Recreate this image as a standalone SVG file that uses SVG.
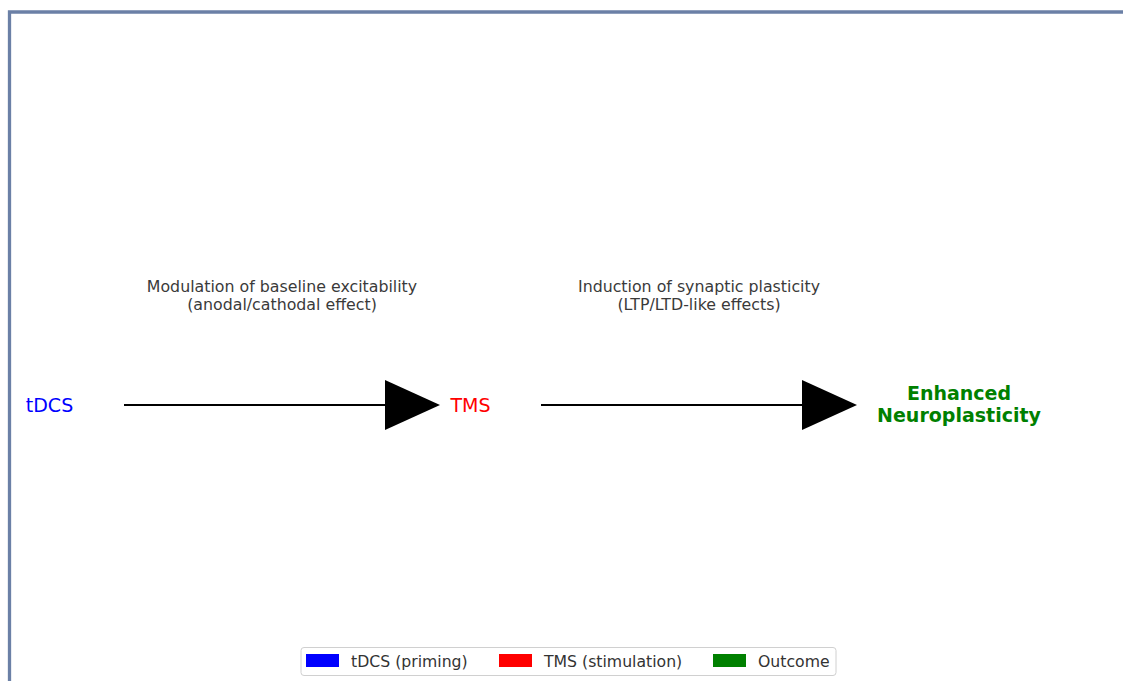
<svg xmlns="http://www.w3.org/2000/svg" width="1123" height="681" viewBox="0 0 1123 681">
<style>
text{font-family:"DejaVu Sans","Liberation Sans",sans-serif}
.node{font-size:19px;text-anchor:middle}
.lbl{font-size:15.8px;fill:#3a3a3a;text-anchor:middle}
.leg{font-size:15.7px;fill:#333}
.conn{stroke:#000;stroke-width:2.2;fill:none}
.head{fill:#000}
</style>
<rect width="1123" height="681" fill="#fff"/>
<path d="M9.5 681 V12 H1123" fill="none" stroke="#6b80a6" stroke-width="3.3"/>
<g id="connectors">
<line class="conn" x1="124" y1="405" x2="390" y2="405"/>
<polygon class="head" points="385,380 440,405 385,430"/>
<line class="conn" x1="541" y1="405" x2="807" y2="405"/>
<polygon class="head" points="802,380 857,405 802,430"/>
</g>
<g id="label1">
<text class="lbl" x="282" y="291.5">Modulation of baseline excitability</text>
<text class="lbl" x="282" y="310">(anodal/cathodal effect)</text>
</g>
<g id="label2">
<text class="lbl" x="699" y="291.5">Induction of synaptic plasticity</text>
<text class="lbl" x="699" y="310">(LTP/LTD-like effects)</text>
</g>
<g id="tdcs"><text class="node" x="49.5" y="411.5" fill="#0000ff">tDCS</text></g>
<g id="tms"><text class="node" x="470.5" y="411.5" fill="#ff0000">TMS</text></g>
<g id="outcome">
<text class="node" x="959" y="400" fill="#008000" font-weight="bold">Enhanced</text>
<text class="node" x="959" y="421.5" fill="#008000" font-weight="bold">Neuroplasticity</text>
</g>
<g id="legend">
<rect x="301" y="647.5" width="535" height="28" rx="3" fill="#fff" stroke="#d0d0d0" stroke-width="1"/>
<rect x="306" y="654" width="33" height="13" fill="#0000ff"/>
<text class="leg" x="351" y="666.5">tDCS (priming)</text>
<rect x="499" y="654" width="33" height="13" fill="#ff0000"/>
<text class="leg" x="544" y="666.5">TMS (stimulation)</text>
<rect x="713" y="654" width="33" height="13" fill="#008000"/>
<text class="leg" x="758" y="666.5">Outcome</text>
</g>
</svg>
